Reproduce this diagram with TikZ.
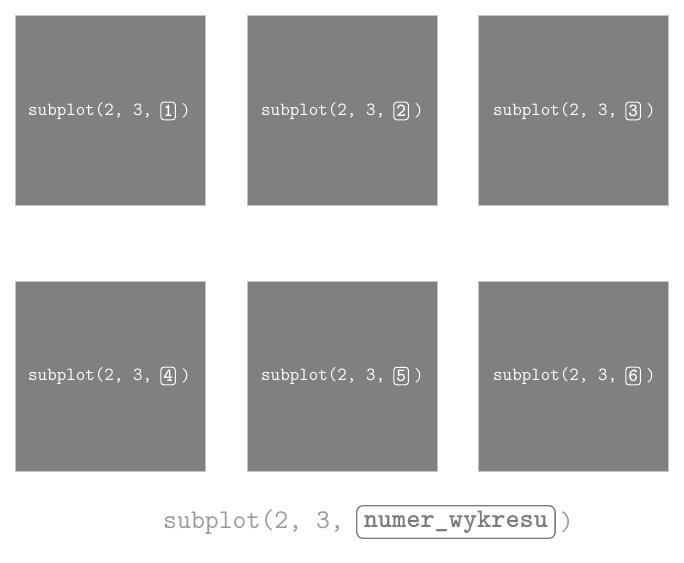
\documentclass[tikz,border=0pt]{standalone}
\usepackage{fontspec}
\usetikzlibrary{positioning}
\definecolor{panelgray}{HTML}{808080}
\definecolor{panelrim}{HTML}{C4C4C4}
\definecolor{codegray}{HTML}{9A9A9A}
\definecolor{arggray}{HTML}{7A7A7A}
\tikzset{
  panel/.style={fill=panelgray, draw=panelrim, line width=0.8pt, minimum size=190pt, inner sep=0pt},
  code/.style={text=white, font=\ttfamily\fontsize{18.5}{19}\selectfont, inner sep=0pt, anchor=west},
  numbox/.style={code, draw=white, rounded corners=3pt, line width=1pt, inner xsep=2.5pt, inner ysep=3pt, font=\ttfamily\bfseries\fontsize{18.5}{19}\selectfont},
  bigcode/.style={text=codegray, font=\ttfamily\fontsize{27}{28}\selectfont, inner sep=0pt, anchor=west},
  bigbox/.style={bigcode, text=arggray, draw=arggray, rounded corners=6pt, line width=1.3pt, inner xsep=7pt, inner ysep=5pt, font=\ttfamily\bfseries\fontsize{27}{28}\selectfont}
}
\begin{document}
\begin{tikzpicture}[x=1pt, y=-1pt]
\useasboundingbox (0,0) rectangle (684,562);

    \node[panel] (p1) at (110,110) {};
    \node[panel] (p2) at (342,110) {};
    \node[panel] (p3) at (573,110) {};
    \node[panel] (p4) at (110,376) {};
    \node[panel] (p5) at (342,376) {};
    \node[panel] (p6) at (573,376) {};

    \node[code] (c1) at (28,111) {subplot(2, 3,};
    \node[numbox, right=8pt of c1] (n1) {1};
    \node[code, right=5pt of n1] (e1) {)};

    \node[code] (c2) at (261,111) {subplot(2, 3,};
    \node[numbox, right=8pt of c2] (n2) {2};
    \node[code, right=5pt of n2] (e2) {)};

    \node[code] (c3) at (493,111) {subplot(2, 3,};
    \node[numbox, right=8pt of c3] (n3) {3};
    \node[code, right=5pt of n3] (e3) {)};

    \node[code] (c4) at (28,376) {subplot(2, 3,};
    \node[numbox, right=8pt of c4] (n4) {4};
    \node[code, right=5pt of n4] (e4) {)};

    \node[code] (c5) at (261,376) {subplot(2, 3,};
    \node[numbox, right=8pt of c5] (n5) {5};
    \node[code, right=5pt of n5] (e5) {)};

    \node[code] (c6) at (493,376) {subplot(2, 3,};
    \node[numbox, right=8pt of c6] (n6) {6};
    \node[code, right=5pt of n6] (e6) {)};

    \node[bigcode] (cb) at (163,522) {subplot(2, 3,};
    \node[bigbox, right=12pt of cb] (nb) {numer\_wykresu};
    \node[bigcode, right=4pt of nb] (eb) {)};
\end{tikzpicture}
\end{document}
